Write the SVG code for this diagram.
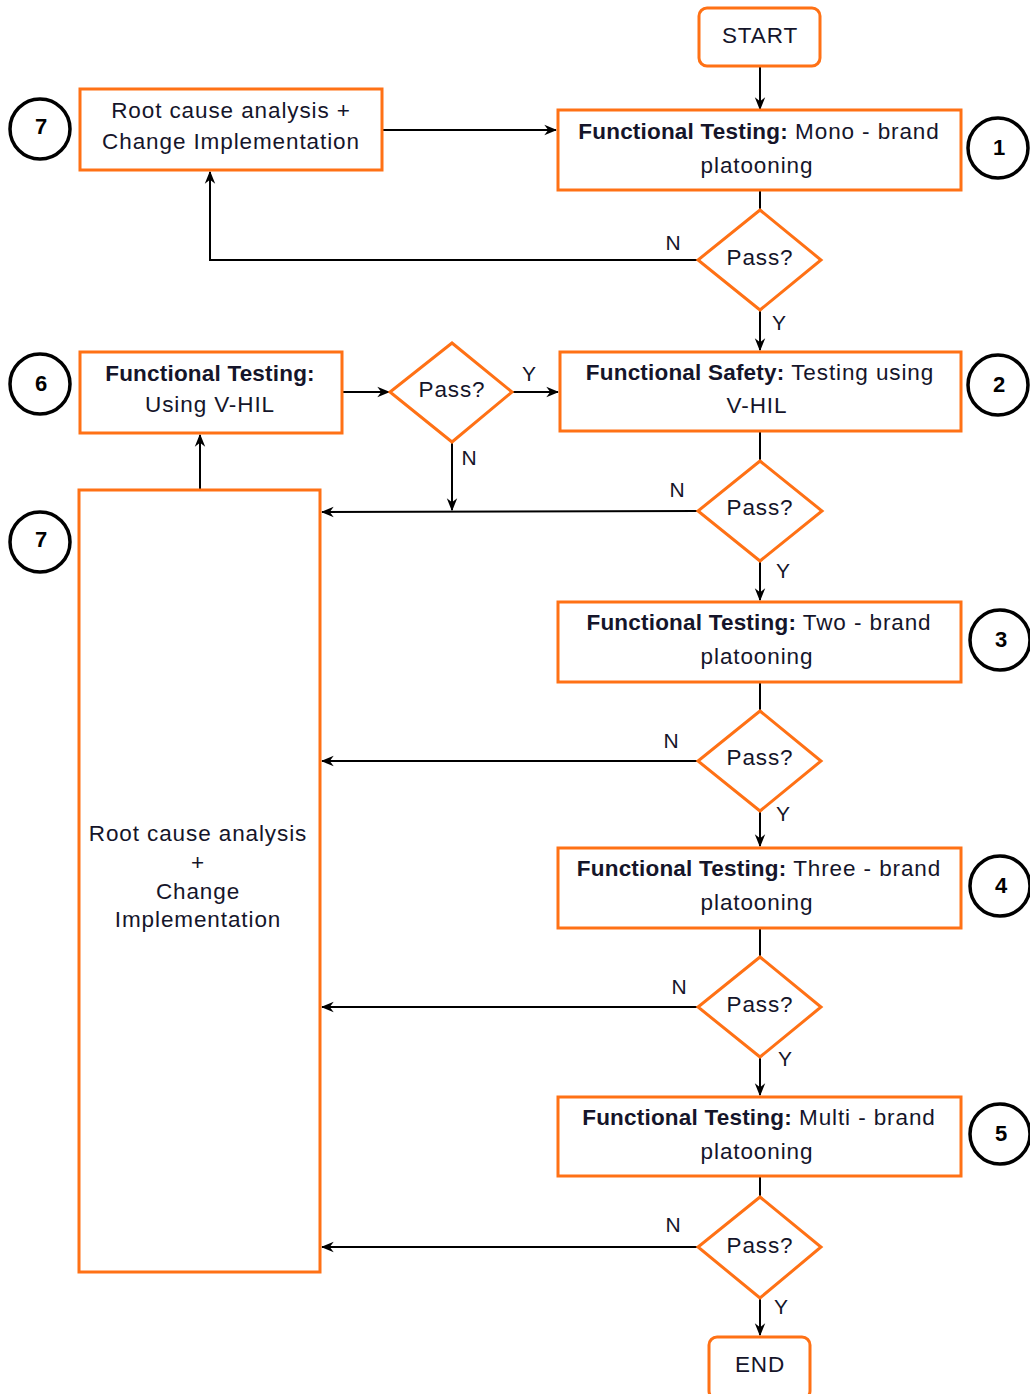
<svg xmlns="http://www.w3.org/2000/svg" width="1030" height="1394" viewBox="0 0 1030 1394">
  <style>
    .box { fill: #ffffff; stroke: #ff7115; stroke-width: 3; }
    .num { fill: #ffffff; stroke: #000000; stroke-width: 3.5; }
    .t { font-family: "Liberation Sans", Arial, sans-serif; font-size: 22.5px; fill: #15152a; text-anchor: middle; letter-spacing: 0.9px; }
    .b { font-weight: bold; letter-spacing: 0.2px; }
    .n { font-family: "Liberation Sans", Arial, sans-serif; font-size: 22px; font-weight: bold; fill: #000000; text-anchor: middle; }
    .lbl { font-family: "Liberation Sans", Arial, sans-serif; font-size: 21px; fill: #15152a; text-anchor: middle; }
    .edge { fill: none; stroke: #000000; stroke-width: 2; }
    .arrow { fill: none; stroke: #000000; stroke-width: 2; marker-end: url(#head); }
  </style>
  <defs>
    <marker id="head" viewBox="0 0 10 10" refX="9" refY="5" markerWidth="13" markerHeight="13" markerUnits="userSpaceOnUse" orient="auto">
      <path d="M0,1 L10,5 L0,9 L3,5 z" fill="#000000"/>
    </marker>
  </defs>
  <rect width="1030" height="1394" fill="#ffffff"/>

  <!-- connectors -->
  <g id="connectors">
    <line class="arrow" x1="760" y1="66" x2="760" y2="109"/>
    <line class="arrow" x1="383" y1="130" x2="556" y2="130"/>
    <line class="edge" x1="760" y1="190" x2="760" y2="210"/>
    <polyline class="arrow" points="698,260 210,260 210,172"/>
    <line class="arrow" x1="760" y1="310" x2="760" y2="350"/>
    <line class="arrow" x1="342" y1="392" x2="389" y2="392"/>
    <line class="arrow" x1="512" y1="392" x2="558" y2="392"/>
    <line class="arrow" x1="452" y1="442" x2="452" y2="510"/>
    <line class="edge" x1="760" y1="431" x2="760" y2="461"/>
    <line class="arrow" x1="698" y1="511" x2="322" y2="512"/>
    <line class="arrow" x1="200" y1="490" x2="200" y2="435"/>
    <line class="arrow" x1="760" y1="561" x2="760" y2="600"/>
    <line class="edge" x1="760" y1="682" x2="760" y2="711"/>
    <line class="arrow" x1="698" y1="761" x2="322" y2="761"/>
    <line class="arrow" x1="760" y1="811" x2="760" y2="846"/>
    <line class="edge" x1="760" y1="928" x2="760" y2="957"/>
    <line class="arrow" x1="698" y1="1007" x2="322" y2="1007"/>
    <line class="arrow" x1="760" y1="1057" x2="760" y2="1095"/>
    <line class="edge" x1="760" y1="1176" x2="760" y2="1197"/>
    <line class="arrow" x1="698" y1="1247" x2="322" y2="1247"/>
    <line class="arrow" x1="760" y1="1298" x2="760" y2="1335"/>

    <text class="lbl" x="673" y="250">N</text>
    <text class="lbl" x="779" y="330">Y</text>
    <text class="lbl" x="529" y="381">Y</text>
    <text class="lbl" x="469" y="465">N</text>
    <text class="lbl" x="677" y="497">N</text>
    <text class="lbl" x="783" y="578">Y</text>
    <text class="lbl" x="671" y="748">N</text>
    <text class="lbl" x="783" y="821">Y</text>
    <text class="lbl" x="679" y="994">N</text>
    <text class="lbl" x="785" y="1066">Y</text>
    <text class="lbl" x="673" y="1232">N</text>
    <text class="lbl" x="781" y="1314">Y</text>
  </g>

  <!-- start / end -->
  <g id="start">
    <rect class="box" x="699" y="8" width="121" height="58" rx="8"/>
    <text class="t" x="760" y="43">START</text>
  </g>
  <g id="end">
    <rect class="box" x="709" y="1337" width="101" height="62" rx="8"/>
    <text class="t" x="760" y="1372">END</text>
  </g>

  <!-- step boxes -->
  <g id="step1">
    <rect class="box" x="558" y="110" width="403" height="80"/>
    <text class="t" x="759" y="139"><tspan class="b">Functional Testing:</tspan> Mono - brand</text>
    <text class="t" x="757" y="173">platooning</text>
  </g>
  <g id="step2">
    <rect class="box" x="560" y="352" width="401" height="79"/>
    <text class="t" x="760" y="380"><tspan class="b">Functional Safety:</tspan> Testing using</text>
    <text class="t" x="757" y="413">V-HIL</text>
  </g>
  <g id="step3">
    <rect class="box" x="558" y="602" width="403" height="80"/>
    <text class="t" x="759" y="630"><tspan class="b">Functional Testing:</tspan> Two - brand</text>
    <text class="t" x="757" y="664">platooning</text>
  </g>
  <g id="step4">
    <rect class="box" x="558" y="848" width="403" height="80"/>
    <text class="t" x="759" y="876"><tspan class="b">Functional Testing:</tspan> Three - brand</text>
    <text class="t" x="757" y="910">platooning</text>
  </g>
  <g id="step5">
    <rect class="box" x="558" y="1097" width="403" height="79"/>
    <text class="t" x="759" y="1125"><tspan class="b">Functional Testing:</tspan> Multi - brand</text>
    <text class="t" x="757" y="1159">platooning</text>
  </g>
  <g id="step6">
    <rect class="box" x="80" y="352" width="262" height="81"/>
    <text class="t b" x="210" y="381">Functional Testing:</text>
    <text class="t" x="210" y="412">Using V-HIL</text>
  </g>
  <g id="root-cause-top">
    <rect class="box" x="80" y="89" width="302" height="81"/>
    <text class="t" x="231" y="118">Root cause analysis +</text>
    <text class="t" x="231" y="149">Change Implementation</text>
  </g>
  <g id="root-cause-main">
    <rect class="box" x="79" y="490" width="241" height="782"/>
    <text class="t" x="198" y="841">Root cause analysis</text>
    <text class="t" x="198" y="870">+</text>
    <text class="t" x="198" y="899">Change</text>
    <text class="t" x="198" y="927">Implementation</text>
  </g>

  <!-- decisions -->
  <g id="decision1">
    <polygon class="box" points="760,210 821,260 760,310 698,260"/>
    <text class="t" x="760" y="265">Pass?</text>
  </g>
  <g id="decision6">
    <polygon class="box" points="452,343 512,392 452,442 390,392"/>
    <text class="t" x="452" y="397">Pass?</text>
  </g>
  <g id="decision2">
    <polygon class="box" points="760,461 822,511 760,561 698,511"/>
    <text class="t" x="760" y="515">Pass?</text>
  </g>
  <g id="decision3">
    <polygon class="box" points="760,711 821,761 760,811 698,761"/>
    <text class="t" x="760" y="765">Pass?</text>
  </g>
  <g id="decision4">
    <polygon class="box" points="760,957 821,1007 760,1057 698,1007"/>
    <text class="t" x="760" y="1012">Pass?</text>
  </g>
  <g id="decision5">
    <polygon class="box" points="760,1197 821,1247 760,1298 698,1247"/>
    <text class="t" x="760" y="1253">Pass?</text>
  </g>

  <!-- step numbers -->
  <g id="num1"><circle class="num" cx="998" cy="148" r="30"/><text class="n" x="999" y="155">1</text></g>
  <g id="num2"><circle class="num" cx="998" cy="385" r="30"/><text class="n" x="999" y="392">2</text></g>
  <g id="num3"><circle class="num" cx="1000" cy="640" r="30"/><text class="n" x="1001" y="647">3</text></g>
  <g id="num4"><circle class="num" cx="1000" cy="886" r="30"/><text class="n" x="1001" y="893">4</text></g>
  <g id="num5"><circle class="num" cx="1000" cy="1134" r="30"/><text class="n" x="1001" y="1141">5</text></g>
  <g id="num6"><circle class="num" cx="40" cy="384" r="30"/><text class="n" x="41" y="391">6</text></g>
  <g id="num7a"><circle class="num" cx="40" cy="129" r="30"/><text class="n" x="41" y="134">7</text></g>
  <g id="num7b"><circle class="num" cx="40" cy="542" r="30"/><text class="n" x="41" y="547">7</text></g>
</svg>
